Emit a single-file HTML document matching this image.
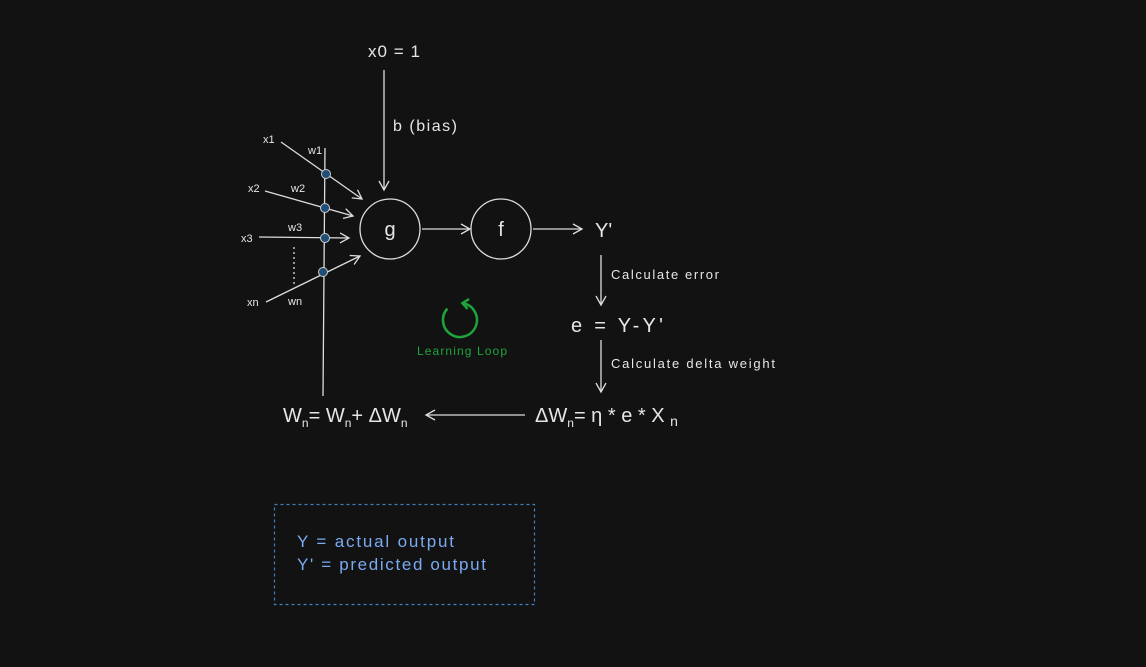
<!DOCTYPE html>
<html><head><style>
html,body{margin:0;padding:0;background:#121212;}
svg{display:block}
text{font-family:"Liberation Sans",sans-serif;fill:#e6e6e6}
</style></head><body>
<svg width="1146" height="667" viewBox="0 0 1146 667">
<defs>
<marker id="a" markerWidth="12" markerHeight="12" refX="10" refY="6" orient="auto" markerUnits="userSpaceOnUse">
<path d="M1,1 L10,6 L1,11" fill="none" stroke="#ddd" stroke-width="1.3"/>
</marker>
<marker id="g" markerWidth="14" markerHeight="14" refX="7" refY="7" orient="auto" markerUnits="userSpaceOnUse">
<path d="M1,2 L7,7 L1,12" fill="none" stroke="#1fa33b" stroke-width="2.5"/>
</marker>
</defs>
<g stroke="#ddd" stroke-width="1.3" fill="none">
<line x1="384" y1="70" x2="384" y2="190" marker-end="url(#a)"/>
<line x1="281" y1="142" x2="362" y2="199" marker-end="url(#a)"/>
<line x1="265" y1="191" x2="353" y2="216" marker-end="url(#a)"/>
<line x1="259" y1="237" x2="349" y2="238" marker-end="url(#a)"/>
<line x1="266" y1="302" x2="360" y2="256" marker-end="url(#a)"/>
<line x1="294" y1="247" x2="294" y2="285" stroke-dasharray="2,3"/>
<line x1="325" y1="148" x2="323" y2="396"/>
<circle cx="390" cy="229" r="30"/>
<circle cx="501" cy="229" r="30"/>
<line x1="422" y1="229" x2="470" y2="229" marker-end="url(#a)"/>
<line x1="533" y1="229" x2="582" y2="229" marker-end="url(#a)"/>
<line x1="601" y1="255" x2="601" y2="305" marker-end="url(#a)"/>
<line x1="601" y1="340" x2="601" y2="392" marker-end="url(#a)"/>
<line x1="525" y1="415" x2="426" y2="415" marker-end="url(#a)"/>
</g>
<g fill="#1f4e79" stroke="#ccc" stroke-width="1">
<circle cx="326" cy="174" r="4.5"/><circle cx="325" cy="208" r="4.5"/>
<circle cx="325" cy="238" r="4.5"/><circle cx="323" cy="272" r="4.5"/>
</g>
<path d="M452,305 A17,17 0 1 0 468,305" fill="none" stroke="#1fa33b" stroke-width="2.5" marker-end="url(#g)" transform="rotate(-20 460 320)"/>
<g font-size="11">
<text x="263" y="143">x1</text><text x="308" y="154">w1</text>
<text x="248" y="192">x2</text><text x="291" y="192">w2</text>
<text x="241" y="242">x3</text><text x="288" y="231">w3</text>
<text x="247" y="306">xn</text><text x="288" y="305">wn</text>
</g>
<text x="368" y="57" font-size="17" textLength="52">x0 = 1</text>
<text x="393" y="131" font-size="16" textLength="64">b (bias)</text>
<text x="390" y="236" font-size="20" text-anchor="middle">g</text>
<text x="501" y="236" font-size="20" text-anchor="middle">f</text>
<text x="595" y="237" font-size="20">Y'</text>
<text x="611" y="279" font-size="13" textLength="108">Calculate error</text>
<text x="571" y="332" font-size="20" textLength="92">e = Y-Y'</text>
<text x="611" y="368" font-size="13" textLength="164">Calculate delta weight</text>
<text x="417" y="355" font-size="12" style="fill:#1fa33b" textLength="90">Learning Loop</text>
<text x="283" y="422" font-size="20">W<tspan font-size="12" dy="5">n</tspan><tspan dy="-5">= W</tspan><tspan font-size="12" dy="5">n</tspan><tspan dy="-5">+ ΔW</tspan><tspan font-size="12" dy="5">n</tspan></text>
<text x="535" y="422" font-size="20">ΔW<tspan font-size="12" dy="5">n</tspan><tspan dy="-5">= η  *  e  *  X </tspan><tspan font-size="14" dy="4">n</tspan></text>
<rect x="274.5" y="504.5" width="260" height="100" fill="none" stroke="#3f7fc0" stroke-width="1.2" stroke-dasharray="3,3"/>
<text x="297" y="547" font-size="17" style="fill:#7aaaf0" textLength="157">Y = actual output</text>
<text x="297" y="570" font-size="17" style="fill:#7aaaf0" textLength="189">Y' = predicted output</text>
</svg>
</body></html>
